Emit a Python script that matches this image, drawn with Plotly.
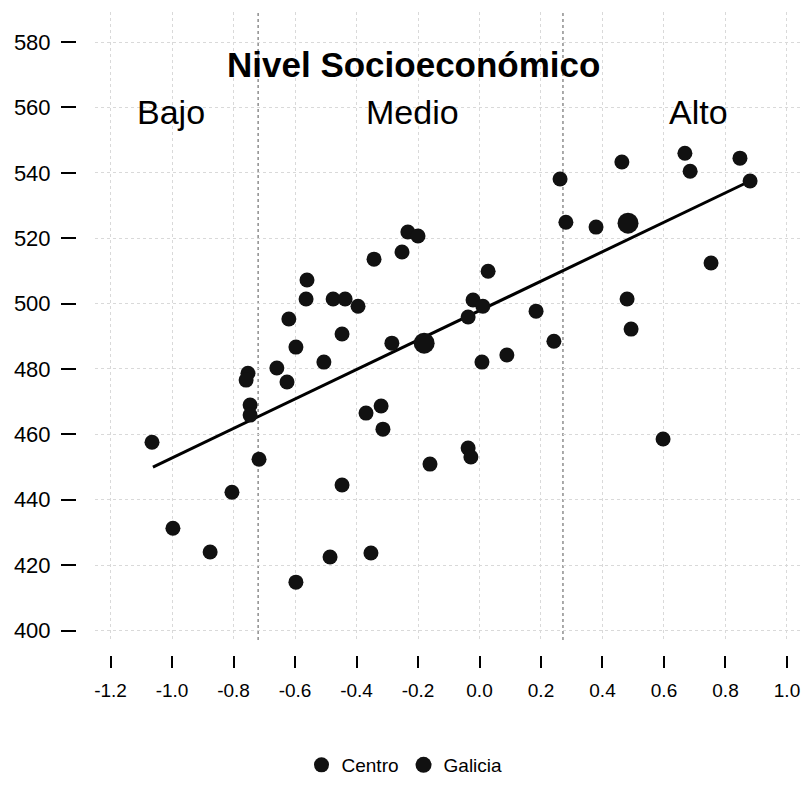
import plotly.graph_objects as go

# --- data ---
centro_x = [-1.065, -0.997, -0.876, -0.805, -0.753, -0.759, -0.746, -0.746, -0.717,
            -0.659, -0.626, -0.620, -0.597, -0.597, -0.561, -0.564, -0.506, -0.476,
            -0.437, -0.447, -0.447, -0.486, -0.395, -0.343, -0.369, -0.353, -0.320,
            -0.314, -0.285, -0.252, -0.233, -0.200, -0.161, -0.037, -0.021, 0.011,
            -0.037, -0.028, 0.008, 0.028, 0.089, 0.184, 0.242, 0.262, 0.281, 0.379,
            0.463, 0.480, 0.493, 0.597, 0.668, 0.685, 0.753, 0.847, 0.880]
centro_y = [457.6, 431.3, 424.0, 442.3, 478.7, 476.6, 469.0, 465.9, 452.4,
            480.3, 476.0, 495.3, 486.7, 414.8, 507.2, 501.4, 482.1, 501.4,
            501.4, 490.7, 444.5, 422.5, 499.2, 513.6, 466.5, 423.7, 468.7,
            461.6, 487.9, 515.8, 521.9, 520.7, 450.9, 495.9, 501.1, 499.2,
            455.8, 453.1, 482.1, 509.9, 484.3, 497.7, 488.5, 538.1, 524.9, 523.4,
            543.3, 501.4, 492.2, 458.6, 546.0, 540.5, 512.4, 544.5, 537.5]

galicia_x = [-0.180, 0.483]
galicia_y = [487.9, 524.6]

trend_x = [-1.062, 0.880]
trend_y = [450.0, 537.5]

x_ticks = [-1.2, -1.0, -0.8, -0.6, -0.4, -0.2, 0.0, 0.2, 0.4, 0.6, 0.8, 1.0]
x_labels = ["-1.2", "-1.0", "-0.8", "-0.6", "-0.4", "-0.2", "0.0", "0.2", "0.4", "0.6", "0.8", "1.0"]
y_ticks = [400, 420, 440, 460, 480, 500, 520, 540, 560, 580]

group_bounds = [-0.720, 0.2715]
group_labels = ["Bajo", "Medio", "Alto"]
group_label_x = [-1.003, -0.218, 0.711]
group_label_y = 558.6

title_text = "Nivel Socioeconómico"

W, H = 801, 800
FONT = "Liberation Sans, Arial, sans-serif"

fig = go.Figure()

fig.add_trace(go.Scatter(
    x=trend_x, y=trend_y, mode="lines",
    line=dict(color="black", width=3), showlegend=False, hoverinfo="skip"))

fig.add_trace(go.Scatter(
    x=centro_x, y=centro_y, mode="markers", name="Centro",
    marker=dict(symbol="circle", size=15, color="#111111",
                line=dict(color="#000000", width=0))))

fig.add_trace(go.Scatter(
    x=galicia_x, y=galicia_y, mode="markers", name="Galicia",
    marker=dict(symbol="circle", size=21, color="#111111",
                line=dict(color="#000000", width=0))))

for b in group_bounds:
    fig.add_shape(type="line", xref="x", yref="y domain", x0=b, x1=b, y0=0, y1=1,
                  line=dict(color="#555555", width=1, dash="dot"), layer="below")

for lab, gx in zip(group_labels, group_label_x):
    fig.add_annotation(x=gx, y=group_label_y, xref="x", yref="y", text=lab,
                       showarrow=False, font=dict(family=FONT, size=34, color="black"),
                       xanchor="center", yanchor="middle")

fig.add_annotation(x=-0.216, y=573.0, xref="x", yref="y", text="<b>" + title_text + "</b>",
                   showarrow=False, font=dict(family=FONT, size=35, color="black"),
                   xanchor="center", yanchor="middle")

plot_l, plot_r, plot_t, plot_b = 95, 800, 12, 640

fig.update_layout(
    width=W, height=H,
    margin=dict(l=0, r=0, t=0, b=0, pad=0, autoexpand=False),
    paper_bgcolor="white", plot_bgcolor="white",
    font=dict(family=FONT, color="black"),
    showlegend=True,
    legend=dict(orientation="h", x=0.505, xanchor="center", y=1 - 765 / H, yanchor="middle",
                font=dict(family=FONT, size=19, color="black"), itemwidth=30,
                itemsizing="trace", tracegroupgap=0,
                bgcolor="rgba(0,0,0,0)"),
    xaxis=dict(domain=[plot_l / W, plot_r / W], range=[-1.2504, 1.0423],
               anchor="free", position=1 - 655 / H, automargin=False,
               tickvals=x_ticks, ticktext=x_labels,
               ticks="outside", ticklen=12, tickwidth=1.5, tickcolor="black",
               tickfont=dict(family=FONT, size=19, color="black"),
               ticklabelstandoff=6,
               showline=False, zeroline=False,
               showgrid=True, gridcolor="#d9d9d9", gridwidth=1, griddash="dot"),
    yaxis=dict(domain=[1 - plot_b / H, 1 - plot_t / H], range=[397.1, 589.2],
               anchor="free", position=76 / W, automargin=False,
               tickvals=y_ticks,
               ticks="outside", ticklen=15, tickwidth=1.5, tickcolor="black",
               tickfont=dict(family=FONT, size=22, color="black"),
               ticklabelstandoff=6,
               showline=False, zeroline=False,
               showgrid=True, gridcolor="#d9d9d9", gridwidth=1, griddash="dot"),
)

fig.write_html("out.html", config={"displayModeBar": False},
               post_script="document.body.style.margin='0';document.body.style.padding='0';")
